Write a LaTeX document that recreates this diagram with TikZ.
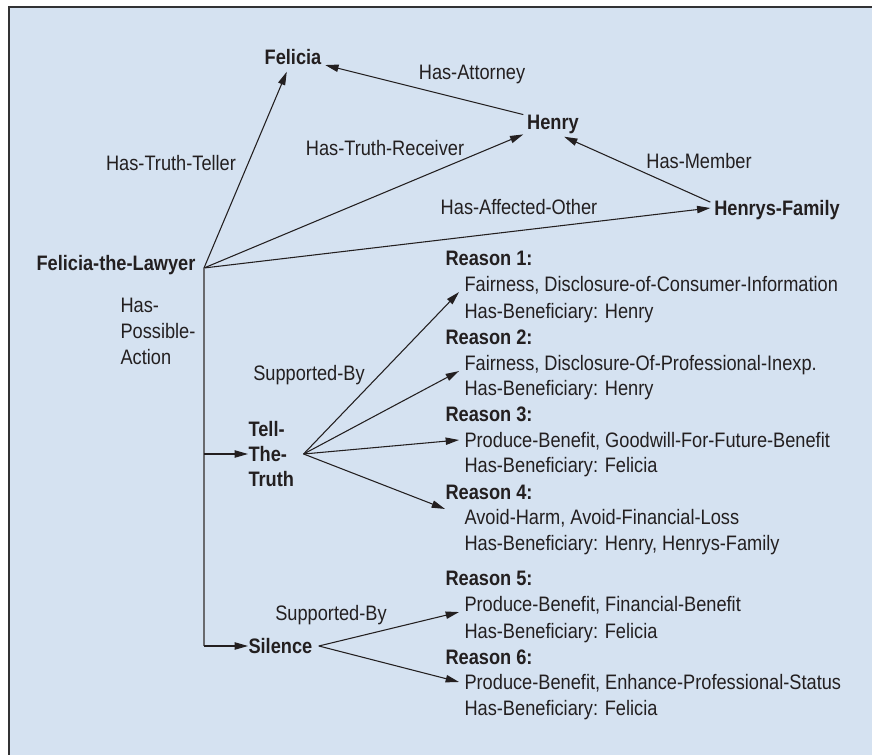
\documentclass[tikz,border=0pt]{standalone}
\usepackage{fontspec}
\setmainfont{Liberation Sans}[FakeStretch=0.87]
\usetikzlibrary{arrows.meta}
\usetikzlibrary{positioning}

\definecolor{panel}{RGB}{213,226,241}
\definecolor{ink}{RGB}{35,31,32}
\definecolor{rule}{RGB}{105,106,110}
\definecolor{frame}{RGB}{50,50,52}

\tikzset{
	term/.style={font=\bfseries, inner xsep=2.5pt, inner ysep=5pt, text height=11.3pt, text depth=0pt},
	rel/.style={inner sep=0pt, text height=11.3pt, text depth=0pt},
	reason/.style={font=\bfseries, anchor=west, inner sep=0pt, text height=11.3pt, text depth=0pt},
	because/.style={anchor=west, inner xsep=3.75pt, inner ysep=0pt, text height=11.3pt, text depth=0pt}
}

\begin{document}
\fontsize{15.7pt}{19.5pt}\selectfont
\begin{tikzpicture}[x=0.75pt,y=-0.75pt,line width=0.8pt,ink,>={Triangle[length=10pt,width=5.5pt]}]
	\useasboundingbox (0,0) rectangle (872,755);
	\fill[panel] (9,7) rectangle (872,755);
	\draw[frame,line width=1.5pt] (9,755) -- (9,7) -- (872,7);

	% people
	\node[term] (felicia) at (293,57) {Felicia};
	\node[term] (henry) at (553,122) {Henry};
	\node[term] (family) at (777,208) {Henrys-Family};
	\node[term, inner xsep=0pt] (lawyer) at (116,263) {Felicia-the-Lawyer};
	\coordinate (hub) at (204,268);

	% actions
	\node[anchor=west, inner sep=0pt, align=left, font=\bfseries\fontsize{15.7pt}{18.4pt}\selectfont] (tell) at (248,454) {Tell-\\The-\\Truth};
	\node[term, anchor=west, inner sep=0pt] (silence) at (248,646) {Silence};

	% relation labels
	\node[rel] (attorney) at (472,72) {Has-Attorney};
	\node[rel] (receiver) at (385,148) {Has-Truth-Receiver};
	\node[rel] (teller) at (171,163) {Has-Truth-Teller};
	\node[rel] (member) at (699,161) {Has-Member};
	\node[rel] (affected) at (519,207) {Has-Affected-Other};
	\node[anchor=west, inner sep=0pt, align=left] (possible) at (120,331) {Has-\\Possible-\\Action};
	\node[rel] (supp1) at (309,373) {Supported-By};
	\node[rel] (supp2) at (331,613) {Supported-By};

	% reasons
	\node[reason] (r1h) at (445,258) {Reason 1:};
	\node[because] (r1) at (459,284) {Fairness, Disclosure-of-Consumer-Information};
	\node[because] (r1b) at (459,311) {Has-Beneficiary: Henry};
	\node[reason] (r2h) at (445,337) {Reason 2:};
	\node[because] (r2) at (459,363) {Fairness, Disclosure-Of-Professional-Inexp.};
	\node[because] (r2b) at (459,388) {Has-Beneficiary: Henry};
	\node[reason] (r3h) at (445,414) {Reason 3:};
	\node[because] (r3) at (459,440) {Produce-Benefit, Goodwill-For-Future-Benefit};
	\node[because] (r3b) at (459,465) {Has-Beneficiary: Felicia};
	\node[reason] (r4h) at (445,492) {Reason 4:};
	\node[because] (r4) at (459,517) {Avoid-Harm, Avoid-Financial-Loss};
	\node[because] (r4b) at (459,543) {Has-Beneficiary: Henry, Henrys-Family};
	\node[reason] (r5h) at (445,578) {Reason 5:};
	\node[because] (r5) at (459,604) {Produce-Benefit, Financial-Benefit};
	\node[because] (r5b) at (459,631) {Has-Beneficiary: Felicia};
	\node[reason] (r6h) at (445,657) {Reason 6:};
	\node[because] (r6) at (459,682) {Produce-Benefit, Enhance-Professional-Status};
	\node[because] (r6b) at (459,708) {Has-Beneficiary: Felicia};

	% connectors
	\draw[->] (hub) -- (felicia);
	\draw[->] (henry) -- (felicia);
	\draw[->] (hub) -- (henry);
	\draw[->] (family.175) -- (henry.-53);
	\draw[->] (hub) -- (family.west);
	\draw[rule] (hub) -- (hub |- silence.west);
	\draw[->] (hub |- tell.west) -- (tell.west);
	\draw[->] (hub |- silence.west) -- (silence.west);

	\coordinate (tt) at ([xshift=6.75pt]tell.east);
	\draw[->] (tt) -- (r1.south west);
	\draw[->] (tt) -- (r2.south west);
	\draw[->] (tt) -- (r3.west);
	\draw[->] (tt) -- ([xshift=-10.5pt]r4.north west);
	\coordinate (sl) at ([xshift=4.5pt]silence.east);
	\draw[->] (sl) -- (r5.south west);
	\draw[->] (sl) -- (r6.west);
\end{tikzpicture}
\end{document}
